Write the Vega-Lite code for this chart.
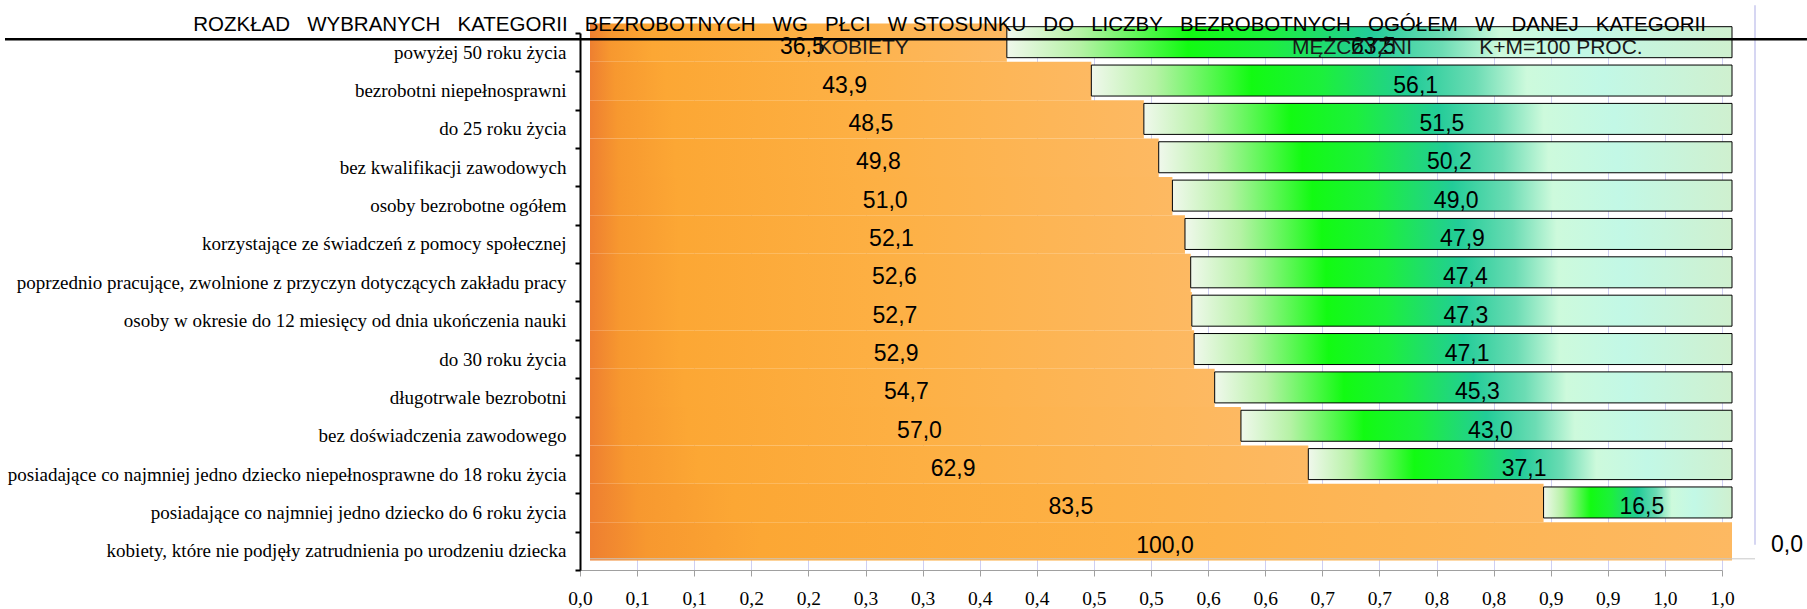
{
  "$schema": "https://vega.github.io/schema/vega-lite/v6.json",
  "width": 1142,
  "height": 537,
  "autosize": {"type": "none"},
  "padding": {"left": 580, "top": 33, "right": 85, "bottom": 39},
  "background": "white",
  "config": {
    "view": {"stroke": null},
    "locale": {"number": {"decimal": ",", "thousands": " ", "grouping": [3], "currency": ["", " zł"]}}
  },
  "data": {
    "values": [
      {"kategoria": "powyżej 50 roku życia", "plec": "K", "wartosc": 36.5},
      {"kategoria": "powyżej 50 roku życia", "plec": "M", "wartosc": 63.5},
      {"kategoria": "bezrobotni niepełnosprawni", "plec": "K", "wartosc": 43.9},
      {"kategoria": "bezrobotni niepełnosprawni", "plec": "M", "wartosc": 56.1},
      {"kategoria": "do 25 roku  życia", "plec": "K", "wartosc": 48.5},
      {"kategoria": "do 25 roku  życia", "plec": "M", "wartosc": 51.5},
      {"kategoria": "bez kwalifikacji zawodowych", "plec": "K", "wartosc": 49.8},
      {"kategoria": "bez kwalifikacji zawodowych", "plec": "M", "wartosc": 50.2},
      {"kategoria": "osoby bezrobotne ogółem", "plec": "K", "wartosc": 51.0},
      {"kategoria": "osoby bezrobotne ogółem", "plec": "M", "wartosc": 49.0},
      {"kategoria": "korzystające ze świadczeń z pomocy społecznej", "plec": "K", "wartosc": 52.1},
      {"kategoria": "korzystające ze świadczeń z pomocy społecznej", "plec": "M", "wartosc": 47.9},
      {"kategoria": "poprzednio pracujące, zwolnione z przyczyn dotyczących zakładu pracy", "plec": "K", "wartosc": 52.6},
      {"kategoria": "poprzednio pracujące, zwolnione z przyczyn dotyczących zakładu pracy", "plec": "M", "wartosc": 47.4},
      {"kategoria": "osoby w okresie do 12 miesięcy od dnia ukończenia nauki", "plec": "K", "wartosc": 52.7},
      {"kategoria": "osoby w okresie do 12 miesięcy od dnia ukończenia nauki", "plec": "M", "wartosc": 47.3},
      {"kategoria": "do 30 roku życia", "plec": "K", "wartosc": 52.9},
      {"kategoria": "do 30 roku życia", "plec": "M", "wartosc": 47.1},
      {"kategoria": "długotrwale bezrobotni", "plec": "K", "wartosc": 54.7},
      {"kategoria": "długotrwale bezrobotni", "plec": "M", "wartosc": 45.3},
      {"kategoria": "bez doświadczenia zawodowego", "plec": "K", "wartosc": 57.0},
      {"kategoria": "bez doświadczenia zawodowego", "plec": "M", "wartosc": 43.0},
      {"kategoria": "posiadające co najmniej jedno dziecko niepełnosprawne do 18 roku życia", "plec": "K", "wartosc": 62.9},
      {"kategoria": "posiadające co najmniej jedno dziecko niepełnosprawne do 18 roku życia", "plec": "M", "wartosc": 37.1},
      {"kategoria": "posiadające co najmniej jedno dziecko do 6 roku życia", "plec": "K", "wartosc": 83.5},
      {"kategoria": "posiadające co najmniej jedno dziecko do 6 roku życia", "plec": "M", "wartosc": 16.5},
      {"kategoria": "kobiety, które nie podjęły zatrudnienia po urodzeniu dziecka", "plec": "K", "wartosc": 100.0},
      {"kategoria": "kobiety, które nie podjęły zatrudnienia po urodzeniu dziecka", "plec": "M", "wartosc": 0.0}
    ]
  },
  "layer": [
    {
      "transform": [
        {"stack": "wartosc", "groupby": ["kategoria"], "sort": [{"field": "plec", "order": "ascending"}], "as": ["x0", "x1"], "offset": "normalize"},
        {"filter": "datum.plec == 'K'"}
      ],
      "mark": {
        "type": "bar",
        "xOffset": 10, "x2Offset": 10, "yOffset": -9.5, "y2Offset": -9.5,
        "fill": {
          "x1": 0, "y1": 0, "x2": 1, "y2": 0, "gradient": "linear",
          "stops": [
            {"offset": 0, "color": "#ee7f30"},
            {"offset": 0.05, "color": "#f7982f"},
            {"offset": 0.15, "color": "#fca734"},
            {"offset": 0.5, "color": "#fdb044"},
            {"offset": 1, "color": "#fdb962"}
          ]
        }
      },
      "encoding": {
        "x": {
          "field": "x0", "type": "quantitative",
          "scale": {"domain": [0, 1], "nice": false, "zero": true},
          "axis": {
            "title": null,
            "values": [0, 0.05, 0.1, 0.15, 0.2, 0.25, 0.3, 0.35, 0.4, 0.45, 0.5, 0.55, 0.6, 0.65, 0.7, 0.75, 0.8, 0.85, 0.9, 0.95, 1],
            "labelExpr": "replace(format(round(datum.value*10+0.000001)/10, '.1f'), '.', ',')",
            "labelFont": "Liberation Serif",
            "labelFontSize": 19.5,
            "labelColor": "#000000",
            "labelPadding": 13,
            "labelFlush": false,
            "labelOverlap": false,
            "domainColor": "#a0a0a0",
            "tickColor": "#a0a0a0",
            "tickSize": 6,
            "grid": true,
            "gridColor": "#cfcff2",
            "gridWidth": 1
          }
        },
        "x2": {"field": "x1"},
        "y": {
          "field": "kategoria", "type": "nominal",
          "sort": [
            "powyżej 50 roku życia",
            "bezrobotni niepełnosprawni",
            "do 25 roku  życia",
            "bez kwalifikacji zawodowych",
            "osoby bezrobotne ogółem",
            "korzystające ze świadczeń z pomocy społecznej",
            "poprzednio pracujące, zwolnione z przyczyn dotyczących zakładu pracy",
            "osoby w okresie do 12 miesięcy od dnia ukończenia nauki",
            "do 30 roku życia",
            "długotrwale bezrobotni",
            "bez doświadczenia zawodowego",
            "posiadające co najmniej jedno dziecko niepełnosprawne do 18 roku życia",
            "posiadające co najmniej jedno dziecko do 6 roku życia",
            "kobiety, które nie podjęły zatrudnienia po urodzeniu dziecka"
          ],
          "scale": {"paddingInner": 0, "paddingOuter": 0},
          "axis": {
            "title": null,
            "labelFont": "Liberation Serif",
            "labelFontSize": 19,
            "labelColor": "#000000",
            "labelLimit": 700,
            "labelPadding": 9,
            "domainColor": "#000000",
            "domainWidth": 2,
            "tickColor": "#000000",
            "tickWidth": 2,
            "tickSize": 5,
            "tickBand": "extent"
          }
        }
      }
    },
    {
      "transform": [
        {"stack": "wartosc", "groupby": ["kategoria"], "sort": [{"field": "plec", "order": "ascending"}], "as": ["x0", "x1"], "offset": "normalize"},
        {"filter": "datum.plec == 'M' && datum.wartosc > 0"}
      ],
      "mark": {
        "type": "bar",
        "height": 31,
        "xOffset": 10, "x2Offset": 10, "yOffset": -10,
        "stroke": "#000000",
        "strokeWidth": 1,
        "fill": {
          "x1": 0, "y1": 0, "x2": 1, "y2": 0, "gradient": "linear",
          "stops": [
            {"offset": 0, "color": "#f0f8ec"},
            {"offset": 0.1, "color": "#b6f2a6"},
            {"offset": 0.25, "color": "#12fb12"},
            {"offset": 0.36, "color": "#1cf03c"},
            {"offset": 0.5, "color": "#22cc98"},
            {"offset": 0.6, "color": "#6cdcb4"},
            {"offset": 0.68, "color": "#cdfadc"},
            {"offset": 0.8, "color": "#c2f8e6"},
            {"offset": 1, "color": "#cff0cf"}
          ]
        }
      },
      "encoding": {
        "x": {"field": "x0", "type": "quantitative"},
        "x2": {"field": "x1"},
        "y": {"field": "kategoria", "type": "nominal", "sort": null}
      }
    },
    {
      "data": {"values": [{}]},
      "mark": {"type": "rule", "color": "#c8c8ee", "strokeWidth": 1.5, "xOffset": 33, "yOffset": -47, "y2Offset": -6},
      "encoding": {
        "x": {"datum": 1},
        "y": {"datum": "powyżej 50 roku życia"},
        "y2": {"datum": "kobiety, które nie podjęły zatrudnienia po urodzeniu dziecka"}
      }
    },
    {
      "data": {"values": [{}]},
      "mark": {"type": "rule", "color": "#c8c8c8", "strokeWidth": 1, "xOffset": 10, "x2Offset": 33, "yOffset": 8},
      "encoding": {
        "x": {"datum": 0},
        "x2": {"datum": 1},
        "y": {"datum": "kobiety, które nie podjęły zatrudnienia po urodzeniu dziecka"}
      }
    },
    {
      "transform": [
        {"stack": "wartosc", "groupby": ["kategoria"], "sort": [{"field": "plec", "order": "ascending"}], "as": ["x0", "x1"], "offset": "normalize"},
        {"calculate": "(datum.x0 + datum.x1) / 2", "as": "xm"},
        {"filter": "datum.wartosc > 0"}
      ],
      "mark": {"type": "text", "font": "Liberation Sans", "fontSize": 23, "color": "#000000", "dx": 14, "dy": -5, "baseline": "middle", "align": "center"},
      "encoding": {
        "x": {"field": "xm", "type": "quantitative"},
        "y": {"field": "kategoria", "type": "nominal", "sort": null},
        "text": {"field": "wartosc", "type": "quantitative", "format": ".1f"}
      }
    },
    {
      "transform": [
        {"stack": "wartosc", "groupby": ["kategoria"], "sort": [{"field": "plec", "order": "ascending"}], "as": ["x0", "x1"], "offset": "normalize"},
        {"calculate": "(datum.x0 + datum.x1) / 2", "as": "xm"},
        {"filter": "datum.wartosc == 0"}
      ],
      "mark": {"type": "text", "font": "Liberation Sans", "fontSize": 23, "color": "#000000", "dx": 65, "dy": -6, "baseline": "middle", "align": "center"},
      "encoding": {
        "x": {"field": "xm", "type": "quantitative"},
        "y": {"field": "kategoria", "type": "nominal", "sort": null},
        "text": {"field": "wartosc", "type": "quantitative", "format": ".1f"}
      }
    },
    {
      "data": {"values": [{"tekst": "KOBIETY"}]},
      "mark": {"type": "text", "font": "Liberation Sans", "fontSize": 21, "color": "#1a1a1a", "dy": -4, "baseline": "middle", "align": "center"},
      "encoding": {
        "x": {"datum": 0.248},
        "y": {"datum": "powyżej 50 roku życia"},
        "text": {"field": "tekst"}
      }
    },
    {
      "data": {"values": [{"tekst": "MĘŻCZYŹNI"}]},
      "mark": {"type": "text", "font": "Liberation Sans", "fontSize": 21, "color": "#1a1a1a", "dy": -4, "baseline": "middle", "align": "center"},
      "encoding": {
        "x": {"datum": 0.676},
        "y": {"datum": "powyżej 50 roku życia"},
        "text": {"field": "tekst"}
      }
    },
    {
      "data": {"values": [{"tekst": "K+M=100 PROC."}]},
      "mark": {"type": "text", "font": "Liberation Sans", "fontSize": 21, "color": "#1a1a1a", "dy": -4, "baseline": "middle", "align": "center"},
      "encoding": {
        "x": {"datum": 0.859},
        "y": {"datum": "powyżej 50 roku życia"},
        "text": {"field": "tekst"}
      }
    },
    {
      "data": {"values": [{"tekst": "ROZKŁAD\u00a0\u00a0 WYBRANYCH\u00a0\u00a0 KATEGORII\u00a0\u00a0 BEZROBOTNYCH\u00a0\u00a0 WG\u00a0\u00a0 PŁCI\u00a0\u00a0 W STOSUNKU\u00a0\u00a0 DO\u00a0\u00a0 LICZBY\u00a0\u00a0 BEZROBOTNYCH\u00a0\u00a0 OGÓŁEM\u00a0\u00a0 W\u00a0\u00a0 DANEJ\u00a0\u00a0 KATEGORII"}]},
      "mark": {"type": "text", "font": "Liberation Sans", "fontSize": 20.5, "color": "#000000", "dy": -27, "baseline": "middle", "align": "center"},
      "encoding": {
        "x": {"datum": 0.3236},
        "y": {"datum": "powyżej 50 roku życia"},
        "text": {"field": "tekst"}
      }
    },
    {
      "data": {"values": [{}]},
      "mark": {"type": "rule", "color": "#000000", "strokeWidth": 2.5, "yOffset": -13, "y2Offset": -13},
      "encoding": {
        "x": {"datum": -0.5035},
        "x2": {"datum": 1.0744},
        "y": {"datum": "powyżej 50 roku życia"}
      }
    }
  ]
}
